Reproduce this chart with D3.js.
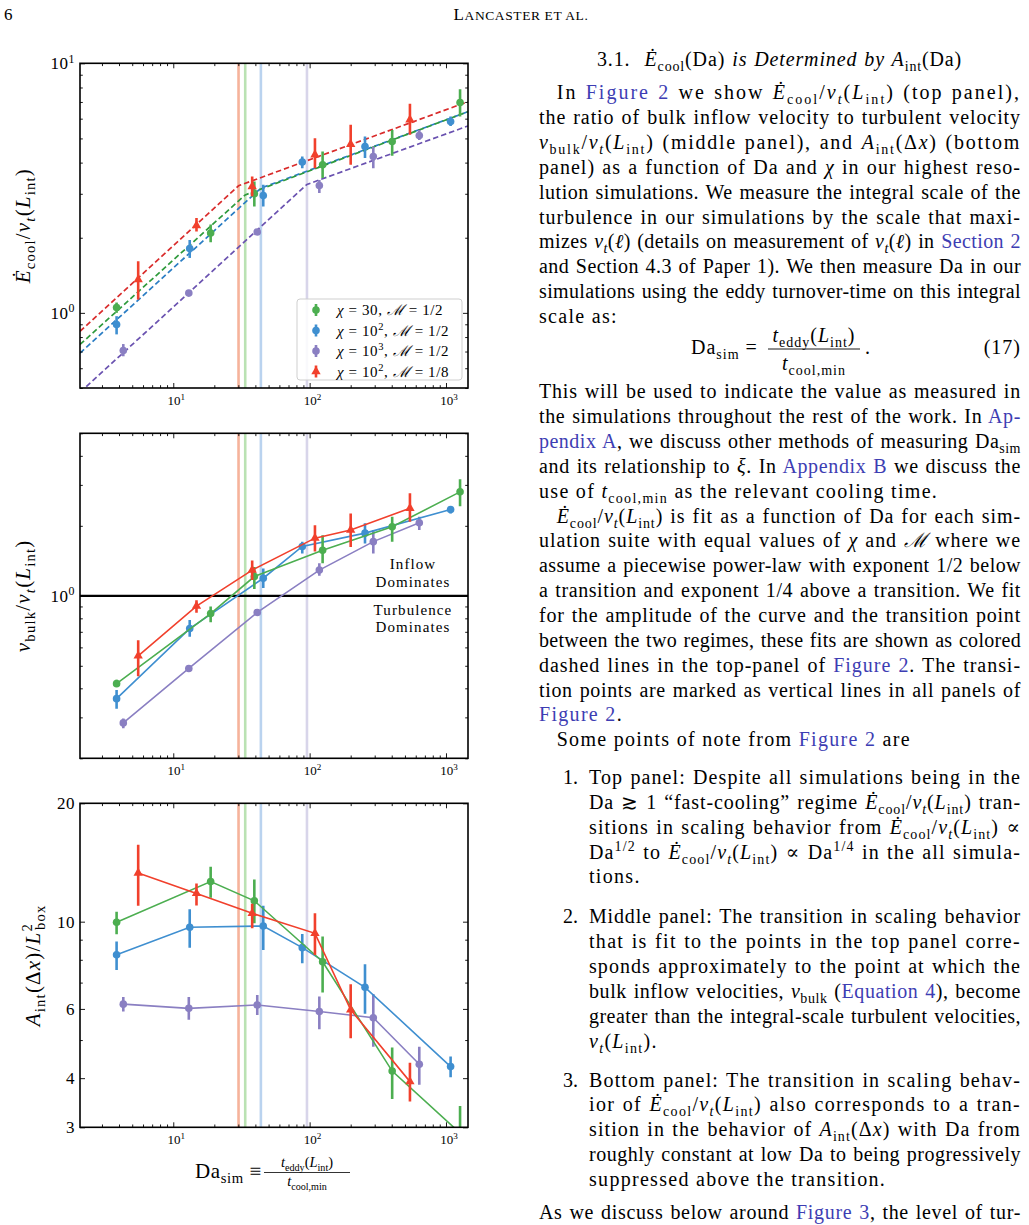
<!DOCTYPE html>
<html>
<head>
<meta charset="utf-8">
<script src="https://cdn.jsdelivr.net/npm/d3@7"></script>
<style>
body { margin: 0; background: #fff; }
svg text { font-family: "Liberation Serif", "DejaVu Serif", serif; white-space: pre; }
</style>
</head>
<body>
<svg id="page" width="1029" height="1225"></svg>
<script>
// ---- data ----
// Da_sim of each simulation in the four suites
var daGreen  = [3.84, 18.8, 39.3, 124.5, 403, 1268];
var daBlue   = [3.84, 13.2, 45.7, 88.3, 254.7, 1081];
var daPurple = [4.3, 13.0, 41.3, 117.8, 293, 637];
var daRed    = [5.53, 14.8, 37.9, 109.4, 200, 544];

// top panel: Ecool / v_t(L_int)
var ecoolGreen   = [1.05, 2.09, 3.0, 3.92, 4.86, 6.96];
var ecoolGreenLo = [1.0, 1.92, 2.67, 3.47, 4.26, 6.12];
var ecoolGreenHi = [1.1, 2.26, 3.36, 4.43, 5.41, 7.87];
var ecoolBlue    = [0.898, 1.81, 2.95, 4.02, 4.64, 5.84];
var ecoolBlueLo  = [0.82, 1.66, 2.67, 3.80, 4.17, 5.61];
var ecoolBlueHi  = [0.97, 1.96, 3.26, 4.23, 5.09, 6.12];
var ecoolPurple   = [0.707, 1.2, 2.11, 3.24, 4.23, 5.14];
var ecoolPurpleLo = [0.67, 1.17, 2.06, 3.02, 3.80, 4.93];
var ecoolPurpleHi = [0.75, 1.23, 2.16, 3.41, 4.64, 5.41];
var ecoolRed   = [1.36, 2.24, 3.21, 4.30, 4.74, 5.94];
var ecoolRedLo = [1.13, 2.12, 2.93, 3.80, 3.92, 5.17];
var ecoolRedHi = [1.61, 2.40, 3.52, 5.01, 5.67, 6.88];

// piecewise power-law fits (left edge, transition, right edge)
var fitGreenX  = [2.07, 33.7, 1450], fitGreenY  = [0.747, 2.97, 6.4];
var fitBlueX   = [2.07, 43.9, 1450], fitBlueY   = [0.69, 3.16, 6.4];
var fitPurpleX = [2.07, 95.6, 1450], fitPurpleY = [0.48, 3.27, 5.61];
var fitRedX    = [2.07, 30.1, 1450], fitRedY    = [0.844, 3.23, 7.02];

// transition points (red, green, blue, purple)
var transDa = [30.1, 33.7, 43.9, 95.6];

// middle panel: v_bulk / v_t(L_int)
var vbGreen   = [0.419, 0.839, 1.21, 1.57, 1.98, 2.80];
var vbGreenLo = [0.405, 0.77, 1.07, 1.38, 1.71, 2.43];
var vbGreenHi = [0.435, 0.90, 1.33, 1.82, 2.19, 3.17];
var vbBlue   = [0.361, 0.723, 1.19, 1.63, 1.86, 2.35];
var vbBlueLo = [0.327, 0.667, 1.08, 1.52, 1.68, 2.26];
var vbBlueHi = [0.393, 0.786, 1.31, 1.71, 2.05, 2.43];
var vbPurple   = [0.284, 0.487, 0.848, 1.29, 1.71, 2.06];
var vbPurpleLo = [0.269, 0.475, 0.83, 1.22, 1.52, 1.92];
var vbPurpleHi = [0.297, 0.5, 0.865, 1.38, 1.92, 2.19];
var vbRed   = [0.552, 0.903, 1.29, 1.77, 1.92, 2.38];
var vbRedLo = [0.451, 0.845, 1.17, 1.55, 1.62, 2.08];
var vbRedHi = [0.644, 0.958, 1.42, 2.01, 2.26, 2.76];

// bottom panel: A_int(dx) / L_box^2
var aGreen   = [9.97, 12.65, 11.3, 7.91, 4.17, 2.9];
var aGreenLo = [9.29, 11.5, 9.91, 6.61, 3.54, 2.5];
var aGreenHi = [10.6, 13.8, 12.8, 9.17, 4.79, 3.4];
var aBlue   = [8.24, 9.68, 9.75, 8.59, 6.81, 4.28];
var aBlueLo = [7.54, 8.59, 8.47, 7.84, 5.83, 4.02];
var aBlueHi = [8.9, 10.75, 10.97, 9.31, 7.79, 4.54];
var aPurple   = [6.17, 6.02, 6.14, 5.91, 5.70, 4.34];
var aPurpleLo = [5.91, 5.63, 5.79, 5.33, 4.81, 3.85];
var aPurpleHi = [6.43, 6.43, 6.51, 6.45, 6.55, 4.81];
var aRed   = [13.3, 11.8, 10.5, 9.34, 5.97, 3.92];
var aRedLo = [10.97, 11.0, 9.62, 8.23, 5.05, 3.49];
var aRedHi = [15.7, 12.5, 11.1, 10.5, 6.93, 4.38];

// ticks and labels
var xTicks = [10, 100, 1000];
var xTickText = ["10^{1}", "10^{2}", "10^{3}"];
var yTicksTop = [1, 10], yTickTextTop = ["10^{0}", "10^{1}"];
var yTicksMid = [1], yTickTextMid = ["10^{0}"];
var yTicksBot = [3, 4, 6, 10, 20], yTickTextBot = ["3", "4", "6", "10", "20"];
var legendText = ["*χ* = 30, *ℳ* = 1/2", "*χ* = 10^{2}, *ℳ* = 1/2",
                  "*χ* = 10^{3}, *ℳ* = 1/2", "*χ* = 10^{2}, *ℳ* = 1/8"];

// colours
var colGreen = "#4cae50", colBlue = "#3f8fd0", colPurple = "#8a7fc2", colRed = "#f1402c";
var fitColGreen = "#2e9a3c", fitColBlue = "#2a7dc4", fitColPurple = "#6a52b0", fitColRed = "#d92b2b";
var transColors = ["#f6b39b", "#bae2b3", "#bad3ef", "#d8d5ea"];
var linkBlue = "#3d3db3";

var svg = d3.select("#page");

// small markup -> tspans: *italic*, _{sub}, ^{sup}, [blue link]
function rich(text, str, size) {
    var runs = [], stack = [], cur = {it: false, lv: 0, blue: false}, buf = "";
    function flush() {
        if (buf) { runs.push({t: buf, it: cur.it, lv: cur.lv, blue: cur.blue}); buf = ""; }
    }
    for (var i = 0; i < str.length; i++) {
        var c = str[i];
        if (c === "*") { flush(); cur.it = !cur.it; }
        else if ((c === "_" || c === "^") && str[i + 1] === "{") {
            flush(); stack.push(Object.assign({}, cur));
            cur = {it: false, lv: c === "_" ? -1 : 1, blue: cur.blue}; i++;
        }
        else if (c === "}" && stack.length) { flush(); var b = cur.blue; cur = stack.pop(); cur.blue = b; }
        else if (c === "[") { flush(); cur.blue = true; }
        else if (c === "]") { flush(); cur.blue = false; }
        else buf += c;
    }
    flush();
    var off = 0;
    runs.forEach(function(r) {
        var target = r.lv < 0 ? size * 0.25 : (r.lv > 0 ? -size * 0.4 : 0);
        text.append("tspan")
            .attr("dy", target - off)
            .style("font-size", (r.lv ? size * 0.7 : size) + "px")
            .style("font-style", r.it ? "italic" : "normal")
            .attr("fill", r.blue ? linkBlue : "#000")
            .text(r.t);
        off = target;
    });
    return off;
}

function addText(x, y, str, size, anchor) {
    var t = svg.append("text").attr("x", x).attr("y", y)
        .attr("text-anchor", anchor || "start").style("font-size", size + "px");
    rich(t, str, size);
    return t;
}

// stretch a line to the column width, TeX-like (glyphs a bit wider, spaces a bit wider)
function justify(t, width) {
    var node = t.node();
    var w = node.getComputedTextLength();
    var n = (node.textContent.match(/ /g) || []).length;
    var chars = node.textContent.length;
    var extra = width - w;
    var ls = n ? (extra - 1.2 * n) / chars : extra / chars;
    ls = Math.max(0, Math.min(2.2, ls));
    t.style("letter-spacing", ls + "px");
    if (n) t.style("word-spacing", ((extra - ls * chars) / n) + "px");
}

// ---- chart ----
var plotL = 80, plotR = 468;
var x = d3.scaleLog().domain([2.07, 1450]).range([plotL, plotR]);

var panels = [
    {top: 63.3, bottom: 388, dom: [0.5, 10], major: yTicksTop, majorText: yTickTextTop,
     series: [
        {da: daGreen, v: ecoolGreen, lo: ecoolGreenLo, hi: ecoolGreenHi, c: colGreen, tri: false},
        {da: daBlue, v: ecoolBlue, lo: ecoolBlueLo, hi: ecoolBlueHi, c: colBlue, tri: false},
        {da: daPurple, v: ecoolPurple, lo: ecoolPurpleLo, hi: ecoolPurpleHi, c: colPurple, tri: false},
        {da: daRed, v: ecoolRed, lo: ecoolRedLo, hi: ecoolRedHi, c: colRed, tri: true}],
     fits: [
        {x: fitBlueX, y: fitBlueY, c: fitColBlue},
        {x: fitGreenX, y: fitGreenY, c: fitColGreen},
        {x: fitPurpleX, y: fitPurpleY, c: fitColPurple},
        {x: fitRedX, y: fitRedY, c: fitColRed}],
     connect: false, ylab: "*Ė*_{cool}/*v*_{*t*}(*L*_{int})", ylabX: 30},
    {top: 433.3, bottom: 758.3, dom: [0.2, 5], major: yTicksMid, majorText: yTickTextMid,
     series: [
        {da: daPurple, v: vbPurple, lo: vbPurpleLo, hi: vbPurpleHi, c: colPurple, tri: false},
        {da: daBlue, v: vbBlue, lo: vbBlueLo, hi: vbBlueHi, c: colBlue, tri: false},
        {da: daGreen, v: vbGreen, lo: vbGreenLo, hi: vbGreenHi, c: colGreen, tri: false},
        {da: daRed, v: vbRed, lo: vbRedLo, hi: vbRedHi, c: colRed, tri: true}],
     fits: [], connect: true, ylab: "*v*_{bulk}/*v*_{*t*}(*L*_{int})", ylabX: 30},
    {top: 803.3, bottom: 1127.3, dom: [3, 20], major: yTicksBot, majorText: yTickTextBot,
     series: [
        {da: daPurple, v: aPurple, lo: aPurpleLo, hi: aPurpleHi, c: colPurple, tri: false},
        {da: daBlue, v: aBlue, lo: aBlueLo, hi: aBlueHi, c: colBlue, tri: false},
        {da: daGreen, v: aGreen, lo: aGreenLo, hi: aGreenHi, c: colGreen, tri: false},
        {da: daRed, v: aRed, lo: aRedLo, hi: aRedHi, c: colRed, tri: true}],
     fits: [], connect: true, ylab: null, ylabX: 40}
];

panels.forEach(function(p, pi) {
    var y = d3.scaleLog().domain(p.dom).range([p.bottom, p.top]);
    var g = svg.append("g");

    svg.append("clipPath").attr("id", "clip" + pi)
        .append("rect").attr("x", plotL).attr("y", p.top)
        .attr("width", plotR - plotL).attr("height", p.bottom - p.top);
    var inner = g.append("g").attr("clip-path", "url(#clip" + pi + ")");

    // transition lines
    inner.selectAll("line.trans")
        .data(transDa)
        .enter()
        .append("line")
        .attr("x1", function(d) { return x(d); })
        .attr("x2", function(d) { return x(d); })
        .attr("y1", p.top).attr("y2", p.bottom)
        .attr("stroke", function(d, i) { return transColors[i]; })
        .attr("stroke-width", 2.6);

    if (pi === 1) {
        inner.append("line")
            .attr("x1", plotL).attr("x2", plotR)
            .attr("y1", y(1)).attr("y2", y(1))
            .attr("stroke", "#000").attr("stroke-width", 2.3);
    }

    // dashed fits (top panel)
    p.fits.forEach(function(f) {
        inner.append("path")
            .datum(f.x.map(function(d, i) { return [d, f.y[i]]; }))
            .attr("d", d3.line().x(function(d) { return x(d[0]); }).y(function(d) { return y(d[1]); }))
            .attr("fill", "none").attr("stroke", f.c)
            .attr("stroke-width", 1.7).attr("stroke-dasharray", "5.5,3");
    });

    p.series.forEach(function(s) {
        var pts = s.da.map(function(d, i) { return {x: d, v: s.v[i], lo: s.lo[i], hi: s.hi[i]}; });
        if (p.connect) {
            inner.append("path").datum(pts)
                .attr("d", d3.line().x(function(d) { return x(d.x); }).y(function(d) { return y(d.v); }))
                .attr("fill", "none").attr("stroke", s.c).attr("stroke-width", 1.6);
        }
        inner.selectAll(null).data(pts).enter().append("line")
            .attr("x1", function(d) { return x(d.x); })
            .attr("x2", function(d) { return x(d.x); })
            .attr("y1", function(d) { return y(d.lo); })
            .attr("y2", function(d) { return y(d.hi); })
            .attr("stroke", s.c).attr("stroke-width", 2.6);
        if (s.tri) {
            inner.selectAll(null).data(pts).enter().append("path")
                .attr("d", d3.symbol(d3.symbolTriangle, 38))
                .attr("transform", function(d) { return "translate(" + x(d.x) + "," + y(d.v) + ")"; })
                .attr("fill", s.c);
        } else {
            inner.selectAll(null).data(pts).enter().append("circle")
                .attr("cx", function(d) { return x(d.x); })
                .attr("cy", function(d) { return y(d.v); })
                .attr("r", 3.8)
                .attr("fill", s.c);
        }
    });

    // ticks inward on all four sides
    var xMinor = x.ticks().filter(function(d) { return xTicks.indexOf(d) < 0; });
    var yMinor = y.ticks().filter(function(d) { return p.major.indexOf(d) < 0; });
    function tickAxis(axis, ticks, size, tr) {
        g.append("g").attr("transform", tr)
            .call(axis.tickValues(ticks).tickSize(-size).tickFormat(""))
            .call(function(a) {
                a.select(".domain").remove();
                a.selectAll("line").attr("stroke", "#000").attr("stroke-width", 0.9);
            });
    }
    tickAxis(d3.axisBottom(x), xTicks, 5, "translate(0," + p.bottom + ")");
    tickAxis(d3.axisBottom(x), xMinor, 2.8, "translate(0," + p.bottom + ")");
    tickAxis(d3.axisTop(x), xTicks, 5, "translate(0," + p.top + ")");
    tickAxis(d3.axisTop(x), xMinor, 2.8, "translate(0," + p.top + ")");
    tickAxis(d3.axisLeft(y), p.major, 5, "translate(" + plotL + ",0)");
    tickAxis(d3.axisLeft(y), yMinor, 2.8, "translate(" + plotL + ",0)");
    tickAxis(d3.axisRight(y), p.major, 5, "translate(" + plotR + ",0)");
    tickAxis(d3.axisRight(y), yMinor, 2.8, "translate(" + plotR + ",0)");

    g.append("rect")
        .attr("x", plotL).attr("y", p.top)
        .attr("width", plotR - plotL).attr("height", p.bottom - p.top)
        .attr("fill", "none").attr("stroke", "#000").attr("stroke-width", 1.6);

    // tick labels
    xTicks.forEach(function(d, i) {
        var t = g.append("text").attr("x", x(d) + 3).attr("y", p.bottom + 17)
            .attr("text-anchor", "middle").style("font-size", "13px");
        rich(t, xTickText[i], 13);
    });
    p.major.forEach(function(d, i) {
        var t = g.append("text").attr("x", plotL - 5).attr("y", y(d) + 6)
            .attr("text-anchor", "end").style("font-size", "17px").style("letter-spacing", "0.5px");
        rich(t, p.majorText[i], 17);
    });

    // axis title
    var yl = g.append("text")
        .attr("transform", "translate(" + p.ylabX + "," + ((p.top + p.bottom) / 2) + ") rotate(-90)")
        .attr("text-anchor", "middle").style("font-size", "21px").style("letter-spacing", "1.2px");
    if (p.ylab) {
        rich(yl, p.ylab, 21);
    } else {
        var off = rich(yl, "*A*_{int}(Δ*x*)/*L*^{2}", 21);
        yl.append("tspan").attr("dx", -7).attr("dy", 21 * 0.25 - off)
            .style("font-size", (21 * 0.7) + "px").text("box");
    }

    // legend (top panel)
    if (pi === 0) {
        var lg = g.append("g");
        lg.append("rect").attr("x", 297).attr("y", 299).attr("width", 165).attr("height", 81)
            .attr("rx", 3).attr("fill", "#fff").attr("fill-opacity", 0.85)
            .attr("stroke", "#cfcfcf").attr("stroke-width", 1);
        p.series.forEach(function(s, i) {
            var ry = 310 + i * 20.5;
            lg.append("line").attr("x1", 316).attr("x2", 316).attr("y1", ry - 6).attr("y2", ry + 6)
                .attr("stroke", s.c).attr("stroke-width", 2.6);
            if (s.tri) {
                lg.append("path").attr("d", d3.symbol(d3.symbolTriangle, 38))
                    .attr("transform", "translate(316," + ry + ")").attr("fill", s.c);
            } else {
                lg.append("circle").attr("cx", 316).attr("cy", ry).attr("r", 3.8).attr("fill", s.c);
            }
            var t = lg.append("text").attr("x", 337).attr("y", ry + 5)
                .style("font-size", "15px").style("letter-spacing", "0.6px");
            rich(t, legendText[i], 15);
        });
    }

    if (pi === 1) {
        addText(413, 569, "Inflow", 15, "middle").style("letter-spacing", "1.1px");
        addText(413, 586.5, "Dominates", 15, "middle").style("letter-spacing", "1.1px");
        addText(413, 614.5, "Turbulence", 15, "middle").style("letter-spacing", "1.1px");
        addText(413, 632, "Dominates", 15, "middle").style("letter-spacing", "1.1px");
    }
});

// x-axis title
addText(195, 1178, "Da_{sim} ≡", 21, "start").style("letter-spacing", "0.6px");
addText(307, 1167, "*t*_{eddy}(*L*_{int})", 14.5, "middle");
addText(307, 1186, "*t*_{cool,min}", 14.5, "middle");
svg.append("line").attr("x1", 264).attr("x2", 350).attr("y1", 1172.5).attr("y2", 1172.5)
    .attr("stroke", "#000").attr("stroke-width", 0.8);

// ---- page header ----
svg.append("text").attr("x", 4).attr("y", 20).style("font-size", "17px").text("6");
var hd = svg.append("text").attr("x", 521).attr("y", 20).attr("text-anchor", "middle")
    .style("letter-spacing", "0.6px");
hd.append("tspan").style("font-size", "17px").text("L");
hd.append("tspan").style("font-size", "13.5px").text("ANCASTER ET AL.");

// ---- right column text ----
var colL = 539, colR = 1021, indL = 556.7, itemL = 589, fs = 20, lsPlain = 1.3;
var lines = [
    ["In [Figure 2] we show *Ė*_{cool}/*v*_{*t*}(*L*_{int}) (top panel),", indL, 99.3, true],
    ["the ratio of bulk inflow velocity to turbulent velocity", colL, 124.2, true],
    ["*v*_{bulk}/*v*_{*t*}(*L*_{int}) (middle panel), and *A*_{int}(Δ*x*) (bottom", colL, 149, true],
    ["panel) as a function of Da and *χ* in our highest reso-", colL, 173.9, true],
    ["lution simulations. We measure the integral scale of the", colL, 198.7, true],
    ["turbulence in our simulations by the scale that maxi-", colL, 223.6, true],
    ["mizes *v*_{*t*}(*ℓ*) (details on measurement of *v*_{*t*}(*ℓ*) in [Section 2]", colL, 248.4, true],
    ["and Section 4.3 of Paper 1). We then measure Da in our", colL, 273.3, true],
    ["simulations using the eddy turnover-time on this integral", colL, 298.1, true],
    ["scale as:", colL, 323, false],
    ["This will be used to indicate the value as measured in", colL, 398.3, true],
    ["the simulations throughout the rest of the work. In [Ap-]", colL, 423.2, true],
    ["[pendix A], we discuss other methods of measuring Da_{sim}", colL, 448, true],
    ["and its relationship to *ξ*. In [Appendix B] we discuss the", colL, 472.9, true],
    ["use of *t*_{cool,min} as the relevant cooling time.", colL, 497.7, false],
    ["*Ė*_{cool}/*v*_{*t*}(*L*_{int}) is fit as a function of Da for each sim-", indL, 522.6, true],
    ["ulation suite with equal values of *χ* and *ℳ* where we", colL, 547.4, true],
    ["assume a piecewise power-law with exponent 1/2 below", colL, 572.3, true],
    ["a transition and exponent 1/4 above a transition. We fit", colL, 597.1, true],
    ["for the amplitude of the curve and the transition point", colL, 622, true],
    ["between the two regimes, these fits are shown as colored", colL, 646.8, true],
    ["dashed lines in the top-panel of [Figure 2]. The transi-", colL, 671.7, true],
    ["tion points are marked as vertical lines in all panels of", colL, 696.5, true],
    ["[Figure 2].", colL, 721.4, false],
    ["Some points of note from [Figure 2] are", indL, 746.2, false],
    ["Top panel: Despite all simulations being in the", itemL, 784, true],
    ["Da ≳ 1 “fast-cooling” regime *Ė*_{cool}/*v*_{*t*}(*L*_{int}) tran-", itemL, 808.9, true],
    ["sitions in scaling behavior from *Ė*_{cool}/*v*_{*t*}(*L*_{int}) ∝", itemL, 833.7, true],
    ["Da^{1/2} to *Ė*_{cool}/*v*_{*t*}(*L*_{int}) ∝ Da^{1/4} in the all simula-", itemL, 858.6, true],
    ["tions.", itemL, 883.4, false],
    ["Middle panel: The transition in scaling behavior", itemL, 923.3, true],
    ["that is fit to the points in the top panel corre-", itemL, 948.2, true],
    ["sponds approximately to the point at which the", itemL, 973, true],
    ["bulk inflow velocities, *v*_{bulk} ([Equation 4]), become", itemL, 997.9, true],
    ["greater than the integral-scale turbulent velocities,", itemL, 1022.7, true],
    ["*v*_{*t*}(*L*_{int}).", itemL, 1047.6, false],
    ["Bottom panel: The transition in scaling behav-", itemL, 1086.5, true],
    ["ior of *Ė*_{cool}/*v*_{*t*}(*L*_{int}) also corresponds to a tran-", itemL, 1111.3, true],
    ["sition in the behavior of *A*_{int}(Δ*x*) with Da from", itemL, 1136.2, true],
    ["roughly constant at low Da to being progressively", itemL, 1161, true],
    ["suppressed above the transition.", itemL, 1185.9, false],
    ["As we discuss below around [Figure 3], the level of tur-", colL, 1219, true]
];
lines.forEach(function(l) {
    var t = addText(l[1], l[2], l[0], fs, "start");
    if (l[3]) justify(t, colR - l[1]);
    else t.style("letter-spacing", lsPlain + "px");
});

// list numbers
addText(578, 784, "1.", fs, "end");
addText(578, 923.3, "2.", fs, "end");
addText(578, 1086.5, "3.", fs, "end");

// section heading, stretched to its printed width
var head = addText(597, 66, "3.1.  *Ė*_{cool}(Da) *is Determined by A*_{int}(Da)", fs, "start");
justify(head, 365);

// equation 17
addText(691, 354, "Da_{sim} =", fs, "start").style("letter-spacing", "1px");
addText(814, 341.5, "*t*_{eddy}(*L*_{int})", fs, "middle").style("letter-spacing", "1px");
addText(814, 369.5, "*t*_{cool,min}", fs, "middle").style("letter-spacing", "1px");
svg.append("line").attr("x1", 768).attr("x2", 860).attr("y1", 349).attr("y2", 349)
    .attr("stroke", "#000").attr("stroke-width", 0.9);
addText(865, 354, ".", fs, "start");
addText(colR, 354, "(17)", fs, "end").style("letter-spacing", "1px");
</script>
</body>
</html>
